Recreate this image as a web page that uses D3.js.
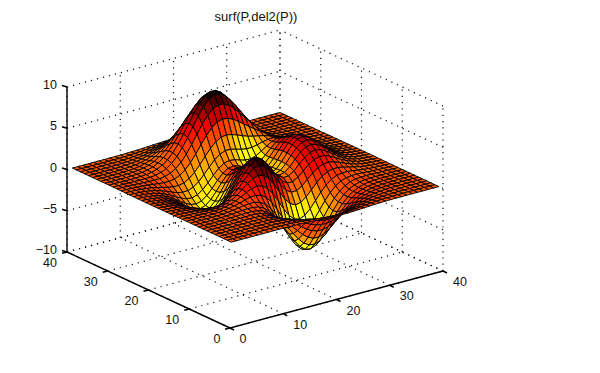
<!DOCTYPE html>
<html>
<head>
<meta charset="utf-8">
<script src="https://cdn.jsdelivr.net/npm/d3@7"></script>
<style>
  html, body { margin: 0; background: #fff; }
  text { font-family: "Liberation Sans", sans-serif; font-size: 12.5px; fill: #111; }
  .title { font-size: 13px; }
</style>
</head>
<body>
<div id="chart"></div>
<script>
const xTicks = [0, 10, 20, 30, 40]
const yTicks = [0, 10, 20, 30, 40]
const zTicks = [-10, -5, 0, 5, 10]
const title = 'surf(P,del2(P))'

// surface heights estimated by hand, one row per y = 1..40, one value per x = 1..40
const heights = [
[0,0,0,0,0,0,0,0,.01,.01,0,0,-.01,-.03,-.05,-.09,-.13,-.17,-.21,-.23,-.25,-.25,-.24,-.22,-.18,-.15,-.11,-.08,-.05,-.03,-.02,-.01,-.01,0,0,0,0,0,0,0],
[0,0,0,0,0,0,0,.01,.01,.01,0,-.01,-.03,-.06,-.11,-.18,-.25,-.33,-.40,-.45,-.48,-.48,-.46,-.41,-.35,-.28,-.21,-.15,-.10,-.06,-.04,-.02,-.01,-.01,0,0,0,0,0,0],
[0,0,0,0,0,0,.01,.01,.01,.01,0,-.02,-.06,-.12,-.21,-.32,-.45,-.59,-.71,-.80,-.86,-.86,-.81,-.73,-.61,-.49,-.37,-.26,-.18,-.11,-.07,-.04,-.02,-.01,-.01,0,0,0,0,0],
[0,0,0,0,0,.01,.01,.02,.02,.01,0,-.04,-.10,-.21,-.36,-.54,-.76,-.98,-1.19,-1.35,-1.43,-1.44,-1.36,-1.21,-1.02,-.81,-.61,-.44,-.29,-.19,-.11,-.06,-.03,-.02,-.01,0,0,0,0,0],
[0,0,0,0,.01,.01,.02,.02,.03,.02,-.01,-.06,-.16,-.33,-.55,-.85,-1.18,-1.53,-1.85,-2.10,-2.23,-2.24,-2.12,-1.89,-1.59,-1.27,-.95,-.68,-.45,-.29,-.17,-.10,-.05,-.02,-.01,-.01,0,0,0,0],
[0,0,0,0,.01,.02,.02,.03,.04,.03,0,-.08,-.22,-.45,-.78,-1.20,-1.69,-2.20,-2.66,-3.03,-3.23,-3.25,-3.07,-2.74,-2.31,-1.84,-1.38,-.98,-.65,-.41,-.24,-.13,-.07,-.03,-.01,-.01,0,0,0,0],
[0,0,0,.01,.01,.02,.03,.05,.06,.05,.01,-.08,-.26,-.56,-.99,-1.55,-2.21,-2.90,-3.55,-4.05,-4.35,-4.38,-4.15,-3.71,-3.13,-2.49,-1.86,-1.31,-.87,-.54,-.32,-.17,-.09,-.04,-.02,-.01,0,0,0,0],
[0,0,0,.01,.02,.03,.04,.06,.08,.09,.06,-.04,-.24,-.59,-1.11,-1.80,-2.62,-3.50,-4.33,-5.00,-5.39,-5.47,-5.20,-4.66,-3.93,-3.11,-2.32,-1.63,-1.07,-.65,-.37,-.20,-.09,-.04,-.01,0,0,0,0,0],
[0,0,0,.01,.02,.03,.05,.08,.12,.14,.14,.06,-.13,-.49,-1.04,-1.82,-2.76,-3.79,-4.79,-5.62,-6.14,-6.27,-6.00,-5.39,-4.55,-3.59,-2.66,-1.84,-1.19,-.71,-.39,-.19,-.08,-.03,0,0,.01,0,0,0],
[0,0,0,.01,.02,.03,.06,.10,.16,.21,.25,.23,.11,-.19,-.71,-1.48,-2.46,-3.58,-4.71,-5.67,-6.32,-6.55,-6.32,-5.70,-4.80,-3.77,-2.76,-1.87,-1.16,-.66,-.33,-.13,-.03,.01,.02,.02,.01,.01,0,0],
[0,0,0,0,.01,.02,.05,.10,.18,.28,.38,.45,.44,.28,-.10,-.76,-1.68,-2.80,-3.97,-5.04,-5.81,-6.16,-6.03,-5.47,-4.60,-3.57,-2.55,-1.66,-.96,-.47,-.17,-.01,.05,.07,.06,.04,.03,.02,.01,0],
[0,0,-.01,-.01,-.01,0,.03,.08,.17,.31,.48,.68,.84,.88,.72,.28,-.46,-1.47,-2.62,-3.73,-4.61,-5.10,-5.12,-4.68,-3.91,-2.97,-2.01,-1.19,-.56,-.14,.09,.18,.19,.16,.11,.08,.04,.03,.01,.01],
[0,-.01,-.02,-.02,-.03,-.04,-.03,.01,.10,.26,.50,.82,1.17,1.46,1.59,1.45,.97,.16,-.88,-2.00,-2.96,-3.59,-3.77,-3.49,-2.87,-2.05,-1.21,-.50,.02,.32,.44,.44,.37,.27,.19,.12,.07,.04,.02,.01],
[-.01,-.02,-.03,-.05,-.08,-.11,-.13,-.12,-.06,.10,.38,.80,1.32,1.86,2.30,2.49,2.33,1.77,.87,-.20,-1.21,-1.95,-2.28,-2.15,-1.67,-.98,-.27,.32,.70,.87,.87,.75,.58,.42,.28,.17,.10,.05,.03,.01],
[-.01,-.03,-.05,-.08,-.13,-.20,-.27,-.32,-.31,-.19,.08,.54,1.19,1.93,2.65,3.15,3.29,2.99,2.27,1.28,.25,-.56,-.98,-.96,-.56,.04,.66,1.14,1.41,1.46,1.33,1.09,.82,.58,.37,.23,.13,.07,.04,.02],
[-.02,-.04,-.07,-.12,-.20,-.31,-.44,-.57,-.65,-.61,-.40,.05,.75,1.62,2.54,3.30,3.70,3.63,3.07,2.17,1.17,.35,-.10,-.10,.28,.86,1.46,1.89,2.08,2.02,1.78,1.43,1.06,.74,.48,.29,.16,.09,.04,.02],
[-.02,-.05,-.09,-.16,-.28,-.43,-.63,-.85,-1.04,-1.12,-1.01,-.63,.06,.99,2.03,2.97,3.57,3.67,3.26,2.46,1.53,.74,.33,.38,.81,1.45,2.07,2.51,2.65,2.52,2.19,1.75,1.29,.89,.57,.35,.20,.11,.05,.03],
[-.03,-.06,-.11,-.20,-.35,-.55,-.82,-1.13,-1.43,-1.64,-1.65,-1.38,-.76,.17,1.27,2.31,3.04,3.29,3.00,2.30,1.45,.74,.42,.56,1.09,1.82,2.51,2.97,3.10,2.93,2.52,2.01,1.48,1.02,.65,.40,.22,.12,.06,.03],
[-.03,-.07,-.13,-.24,-.40,-.65,-.97,-1.36,-1.77,-2.10,-2.24,-2.08,-1.55,-.66,.44,1.52,2.34,2.69,2.51,1.92,1.16,.55,.33,.57,1.21,2.03,2.78,3.28,3.42,3.21,2.76,2.19,1.61,1.11,.71,.43,.25,.13,.07,.03],
[-.04,-.07,-.14,-.26,-.44,-.71,-1.08,-1.53,-2.01,-2.43,-2.68,-2.62,-2.18,-1.37,-.31,.78,1.64,2.06,1.97,1.48,.83,.33,.20,.53,1.24,2.12,2.92,3.44,3.57,3.35,2.88,2.29,1.68,1.16,.74,.45,.26,.14,.07,.03],
[-.04,-.08,-.14,-.26,-.45,-.73,-1.12,-1.60,-2.12,-2.60,-2.92,-2.95,-2.60,-1.87,-.88,.18,1.04,1.50,1.49,1.09,.55,.14,.09,.48,1.22,2.12,2.92,3.43,3.57,3.35,2.87,2.28,1.68,1.15,.74,.45,.25,.14,.07,.03],
[-.04,-.07,-.14,-.26,-.44,-.72,-1.10,-1.57,-2.10,-2.60,-2.95,-3.04,-2.77,-2.13,-1.23,-.25,.58,1.04,1.08,.77,.32,0,.01,.42,1.16,2.02,2.79,3.27,3.40,3.19,2.73,2.17,1.59,1.09,.70,.42,.24,.13,.06,.03],
[-.03,-.07,-.13,-.24,-.41,-.66,-1.02,-1.46,-1.96,-2.44,-2.79,-2.91,-2.70,-2.15,-1.35,-.47,.29,.74,.82,.59,.23,-.02,.02,.41,1.09,1.87,2.56,3.00,3.10,2.90,2.49,1.97,1.45,.99,.64,.39,.22,.12,.06,.03],
[-.03,-.06,-.11,-.21,-.36,-.58,-.89,-1.29,-1.73,-2.15,-2.46,-2.57,-2.39,-1.91,-1.21,-.41,.28,.71,.83,.66,.38,.18,.22,.54,1.11,1.76,2.32,2.67,2.74,2.55,2.18,1.72,1.26,.86,.55,.34,.19,.10,.05,.02],
[-.02,-.05,-.09,-.17,-.30,-.48,-.74,-1.06,-1.42,-1.76,-2.00,-2.06,-1.87,-1.41,-.76,-.01,.65,1.10,1.26,1.18,.97,.79,.77,.97,1.35,1.80,2.18,2.40,2.39,2.19,1.85,1.45,1.06,.72,.46,.28,.16,.08,.04,.02],
[-.02,-.04,-.07,-.13,-.23,-.37,-.57,-.81,-1.07,-1.31,-1.44,-1.42,-1.16,-.68,0,.75,1.45,1.96,2.22,2.22,2.06,1.87,1.75,1.76,1.89,2.07,2.21,2.24,2.13,1.88,1.56,1.20,.87,.59,.37,.22,.13,.07,.03,.02],
[-.01,-.03,-.05,-.10,-.17,-.27,-.40,-.56,-.72,-.84,-.86,-.71,-.35,.23,.98,1.82,2.62,3.24,3.62,3.72,3.61,3.37,3.11,2.88,2.71,2.58,2.43,2.24,1.98,1.66,1.33,1.00,.70,.47,.30,.18,.10,.05,.03,.01],
[-.01,-.02,-.04,-.07,-.11,-.17,-.25,-.34,-.40,-.40,-.30,-.02,.47,1.17,2.04,3.01,3.93,4.70,5.21,5.41,5.34,5.04,4.62,4.14,3.66,3.20,2.77,2.34,1.92,1.52,1.16,.84,.57,.37,.23,.14,.07,.04,.02,.01],
[-.01,-.01,-.02,-.04,-.07,-.10,-.13,-.15,-.14,-.04,.17,.56,1.16,1.97,2.96,4.04,5.09,5.98,6.61,6.90,6.85,6.50,5.93,5.24,4.50,3.77,3.08,2.45,1.90,1.42,1.03,.71,.47,.30,.18,.10,.06,.03,.01,.01],
[0,-.01,-.01,-.02,-.03,-.04,-.04,-.02,.06,.22,.51,.97,1.64,2.52,3.57,4.72,5.84,6.80,7.50,7.84,7.81,7.43,6.77,5.94,5.02,4.10,3.25,2.49,1.85,1.32,.92,.61,.39,.24,.14,.08,.04,.02,.01,0],
[0,0,-.01,-.01,-.01,0,.02,.07,.17,.37,.69,1.18,1.86,2.74,3.78,4.91,6.01,6.98,7.68,8.05,8.03,7.64,6.96,6.08,5.10,4.11,3.19,2.39,1.73,1.20,.81,.52,.32,.19,.11,.06,.03,.02,.01,0],
[0,0,0,0,0,.02,.05,.11,.22,.42,.74,1.20,1.84,2.65,3.60,4.63,5.65,6.54,7.19,7.54,7.53,7.17,6.53,5.69,4.75,3.80,2.92,2.15,1.53,1.04,.68,.43,.26,.15,.08,.05,.02,.01,0,0],
[0,0,0,0,.01,.02,.06,.12,.22,.40,.68,1.08,1.63,2.31,3.12,4.00,4.86,5.61,6.18,6.47,6.47,6.16,5.61,4.88,4.06,3.23,2.47,1.81,1.27,.85,.55,.34,.20,.12,.06,.03,.02,.01,0,0],
[0,0,0,0,.01,.02,.05,.10,.19,.34,.56,.88,1.31,1.86,2.49,3.18,3.86,4.46,4.90,5.14,5.14,4.90,4.46,3.87,3.22,2.55,1.94,1.41,.98,.65,.42,.26,.15,.08,.05,.02,.01,.01,0,0],
[0,0,0,0,.01,.02,.04,.08,.15,.26,.42,.66,.98,1.38,1.84,2.35,2.85,3.28,3.61,3.79,3.79,3.61,3.28,2.85,2.37,1.88,1.42,1.03,.71,.47,.30,.18,.11,.06,.03,.02,.01,0,0,0],
[0,0,0,0,.01,.01,.03,.06,.11,.18,.30,.46,.68,.95,1.27,1.62,1.96,2.26,2.48,2.60,2.60,2.48,2.26,1.96,1.63,1.29,.97,.70,.49,.32,.20,.12,.07,.04,.02,.01,.01,0,0,0],
[0,0,0,0,0,.01,.02,.04,.07,.12,.19,.30,.44,.61,.82,1.04,1.26,1.45,1.59,1.67,1.67,1.59,1.45,1.26,1.04,.82,.62,.45,.31,.20,.13,.08,.04,.02,.01,.01,0,0,0,0],
[0,0,0,0,0,.01,.01,.02,.04,.07,.12,.18,.26,.37,.49,.62,.75,.87,.95,1.00,1.00,.95,.87,.75,.62,.49,.37,.27,.18,.12,.08,.05,.03,.01,.01,0,0,0,0,0],
[0,0,0,0,0,0,.01,.01,.02,.04,.07,.10,.15,.21,.28,.35,.42,.49,.54,.56,.56,.54,.49,.43,.35,.28,.21,.15,.10,.07,.04,.03,.01,.01,0,0,0,0,0,0],
[0,0,0,0,0,0,0,.01,.01,.02,.04,.05,.08,.11,.15,.19,.22,.26,.28,.30,.30,.28,.26,.22,.19,.15,.11,.08,.05,.04,.02,.01,.01,0,0,0,0,0,0,0]
]

const width = 600
const height = 373
const origin = { x: 230, y: 328 }

// three axes of the fixed view, each one a pair of screen offsets
const xToPx = d3.scaleLinear().domain([0, 40]).range([0, 213])
const xToPy = d3.scaleLinear().domain([0, 40]).range([0, -57])
const yToPx = d3.scaleLinear().domain([0, 40]).range([0, -163])
const yToPy = d3.scaleLinear().domain([0, 40]).range([0, -76])
const zToPy = d3.scaleLinear().domain([-10, 10]).range([0, -165])

const project = (x, y, z) => [
  origin.x + xToPx(x) + yToPx(y),
  origin.y + xToPy(x) + yToPy(y) + zToPy(z)
]

// del2 of the heights, edges copy the nearest inner value
const rows = heights.length
const cols = heights[0].length
const del2 = heights.map((row, j) => row.map((v, i) => {
  const jj = Math.min(Math.max(j, 1), rows - 2)
  const ii = Math.min(Math.max(i, 1), cols - 2)
  return (heights[jj - 1][ii] + heights[jj + 1][ii] + heights[jj][ii - 1] + heights[jj][ii + 1]) / 4 - heights[jj][ii]
}))
const cExtent = d3.extent(del2.flat())

// hot colormap, 64 levels
const hot = c => {
  const n = Math.min(64, Math.floor((c - cExtent[0]) / (cExtent[1] - cExtent[0]) * 64) + 1)
  const r = Math.min(1, n / 24)
  const g = Math.max(0, Math.min(1, (n - 24) / 24))
  const b = Math.max(0, Math.min(1, (n - 48) / 16))
  return d3.rgb(r * 255, g * 255, b * 255).formatHex()
}

const svg = d3.select('#chart')
  .append('svg')
  .attr('width', width)
  .attr('height', height)

const line = d3.line()

// dotted grid on the floor and the two back walls
const grid = svg.append('g')
  .attr('fill', 'none')
  .attr('stroke', '#111')
  .attr('stroke-width', 1.2)
  .attr('stroke-dasharray', '1.2 5')

const gridLines = []
xTicks.forEach(x => {
  gridLines.push([project(x, 0, -10), project(x, 40, -10)])
  gridLines.push([project(x, 40, -10), project(x, 40, 10)])
})
yTicks.forEach(y => {
  gridLines.push([project(0, y, -10), project(40, y, -10)])
  gridLines.push([project(40, y, -10), project(40, y, 10)])
})
zTicks.forEach(z => {
  gridLines.push([project(0, 40, z), project(40, 40, z)])
  gridLines.push([project(40, 0, z), project(40, 40, z)])
})

grid.selectAll('path')
  .data(gridLines)
  .enter()
  .append('path')
  .attr('d', d => line(d))

// the axes
const axes = svg.append('g')
  .attr('fill', 'none')
  .attr('stroke', '#000')
  .attr('stroke-width', 1.4)

const axisLines = [
  [project(0, 40, -10), project(0, 40, 10)],
  [project(0, 40, -10), project(0, 0, -10)],
  [project(0, 0, -10), project(40, 0, -10)]
]
xTicks.forEach(x => {
  const p = project(x, 0, -10)
  axisLines.push([p, [p[0] + 4, p[1] + 2]])
})
yTicks.forEach(y => {
  const p = project(0, y, -10)
  axisLines.push([p, [p[0] - 5, p[1] + 1.3]])
})
zTicks.forEach(z => {
  const p = project(0, 40, z)
  axisLines.push([p, [p[0] - 5, p[1] - 1.5]])
})

axes.selectAll('path')
  .data(axisLines)
  .enter()
  .append('path')
  .attr('d', d => line(d))

// surface cells, far corner first so nearer cells cover it
const cells = []
for (let j = rows - 2; j >= 0; j--) {
  for (let i = cols - 2; i >= 0; i--) {
    cells.push({ i, j })
  }
}

svg.append('g')
  .attr('stroke', '#000')
  .attr('stroke-width', 0.9)
  .attr('stroke-linejoin', 'round')
  .selectAll('path')
  .data(cells)
  .enter()
  .append('path')
  .attr('fill', d => hot(del2[d.j][d.i]))
  .attr('d', ({ i, j }) => line([
    project(i + 1, j + 1, heights[j][i]),
    project(i + 2, j + 1, heights[j][i + 1]),
    project(i + 2, j + 2, heights[j + 1][i + 1]),
    project(i + 1, j + 2, heights[j + 1][i])
  ]) + 'Z')

// tick labels
const labels = svg.append('g')

labels.selectAll('.zlabel')
  .data(zTicks)
  .enter()
  .append('text')
  .attr('class', 'zlabel')
  .attr('text-anchor', 'end')
  .attr('dy', '0.32em')
  .attr('x', d => project(0, 40, d)[0] - 10)
  .attr('y', d => project(0, 40, d)[1] - 2)
  .text(d => String(d).replace('-', '\u2212'))

labels.selectAll('.ylabel')
  .data(yTicks)
  .enter()
  .append('text')
  .attr('class', 'ylabel')
  .attr('text-anchor', 'middle')
  .attr('dy', '0.32em')
  .attr('x', d => project(0, d, -10)[0] + (d === 0 ? -13 : -17))
  .attr('y', d => project(0, d, -10)[1] + 11)
  .text(d => d)

labels.selectAll('.xlabel')
  .data(xTicks)
  .enter()
  .append('text')
  .attr('class', 'xlabel')
  .attr('text-anchor', 'middle')
  .attr('dy', '0.32em')
  .attr('x', d => project(d, 0, -10)[0] + (d === 0 ? 13 : 17))
  .attr('y', d => project(d, 0, -10)[1] + 11)
  .text(d => d)

svg.append('text')
  .attr('class', 'title')
  .attr('text-anchor', 'middle')
  .attr('x', 256)
  .attr('y', 21)
  .text(title)
</script>
</body>
</html>
